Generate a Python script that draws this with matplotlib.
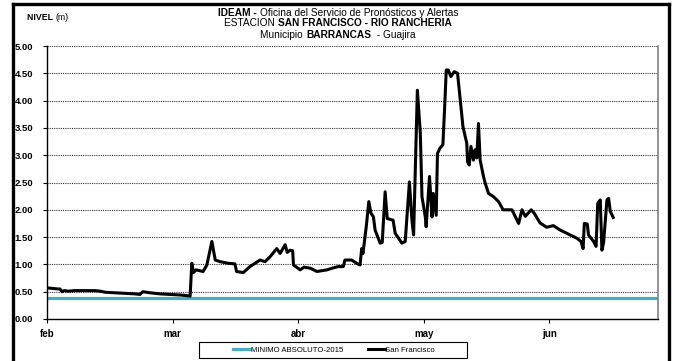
import matplotlib
matplotlib.use("Agg")
import matplotlib.pyplot as plt
from matplotlib.lines import Line2D
from matplotlib.patches import Rectangle

plt.rcParams['font.family'] = ['Liberation Sans', 'DejaVu Sans']

# Days counted from 1 February
dias = [0, 1.2, 2.6, 3.1, 3.6, 4.1, 5.0, 6.7, 9.1, 11.5, 12.7, 13.9, 16.3, 18.6,
        21.0, 22.2, 22.9, 24.6, 27.0, 29.4, 31.8, 33.2, 34.2, 34.6, 35.0, 35.6,
        37.3, 38.2, 39.4, 40.2, 41.4, 43.3, 44.9, 45.3, 46.9, 48.5, 49.7, 50.9,
        52.1, 53.3, 54.9, 55.7, 56.9, 57.4, 58.1, 58.7, 58.9, 60.5, 61.4, 62.9,
        64.5, 66.9, 68.1, 69.6, 70.8, 71.2, 72.8, 74.0, 74.8, 75.2, 75.5, 76.3,
        76.9, 77.4, 78.0, 78.4, 79.6, 80.1, 80.8, 81.3, 82.7, 83.2, 84.8, 85.6,
        86.6, 87.2, 87.6, 88.5, 89.2, 89.6, 90.4, 90.6, 91.4, 92.0, 92.3, 93.0,
        93.3, 93.9, 94.6, 95.1, 95.4, 95.9, 96.5, 97.3, 98.1, 99.4, 100.3, 100.5,
        100.9, 101.3, 101.9, 102.3, 102.7, 103.1, 103.5, 104.3, 104.7, 105.5,
        106.7, 107.9, 109.0, 111.1, 112.7, 113.5, 114.3, 115.7, 116.4, 117.8,
        119.4, 121.0, 122.6, 124.2, 126.6, 127.6, 128.1, 128.4, 129.1, 129.4,
        130.6, 131.2, 131.6, 132.2, 132.6, 133.0, 133.8, 134.2, 134.6, 135.3]

nivel = [0.57, 0.56, 0.55, 0.55, 0.50, 0.52, 0.51, 0.52, 0.52, 0.52, 0.51, 0.49,
         0.48, 0.47, 0.46, 0.45, 0.50, 0.48, 0.46, 0.45, 0.44, 0.43, 0.42, 1.02,
         0.85, 0.90, 0.87, 0.99, 1.42, 1.08, 1.05, 1.02, 1.01, 0.87, 0.85, 0.96,
         1.02, 1.08, 1.05, 1.14, 1.29, 1.20, 1.36, 1.22, 1.26, 1.25, 0.99, 0.90,
         0.95, 0.93, 0.87, 0.90, 0.93, 0.96, 0.96, 1.08, 1.08, 1.02, 0.99, 1.29,
         1.20, 1.70, 2.15, 1.94, 1.87, 1.63, 1.39, 1.40, 2.33, 1.84, 1.81, 1.57,
         1.39, 1.42, 2.51, 1.81, 1.54, 4.19, 3.41, 2.24, 1.87, 1.69, 2.61, 1.87,
         2.30, 1.90, 3.03, 3.13, 3.19, 4.01, 4.56, 4.56, 4.44, 4.53, 4.50, 3.52,
         3.22, 2.88, 2.82, 3.16, 2.91, 3.10, 2.95, 3.58, 2.91, 2.61, 2.49, 2.30,
         2.24, 2.15, 2.00, 2.00, 1.75, 2.00, 1.88, 2.00, 1.94, 1.76, 1.68, 1.71,
         1.63, 1.57, 1.48, 1.42, 1.29, 1.75, 1.74, 1.54, 1.42, 1.33, 2.12, 2.18,
         1.26, 1.40, 2.18, 2.21, 1.97, 1.86]

minimo_absoluto = 0.38

meses = ['feb', 'mar', 'abr', 'may', 'jun']
pos_meses = [0, 30, 60, 90, 120]
y_ticks = [0.0, 0.5, 1.0, 1.5, 2.0, 2.5, 3.0, 3.5, 4.0, 4.5, 5.0]

W, H = 674, 361
fig = plt.figure(figsize=(W / 100, H / 100), dpi=100)
ax = fig.add_axes([47 / W, 1 - 319 / H, (658 - 47) / W, (319 - 46) / H])

ax.set_xlim(0, 146)
ax.set_ylim(0, 5)

for yv in y_ticks[1:]:
    ax.axhline(yv, color='#333333', lw=0.8, dashes=(1, 1), zorder=1)

l_min = ax.axhline(minimo_absoluto, color='#4BACC6', lw=2.3, zorder=2,
                   label='MINIMO ABSOLUTO-2015')
l_sf, = ax.plot(dias, nivel, color='black', lw=2.2, solid_joinstyle='round',
                zorder=3, label='San Francisco')

ax.set_yticks(y_ticks)
ax.set_yticklabels([f'{v:.2f}' for v in y_ticks], fontweight='bold', fontsize=6.8)
ax.set_xticks(pos_meses)
ax.set_xticklabels(meses, fontweight='bold', fontsize=7)
ax.tick_params(axis='y', direction='out', length=3, width=0.8, pad=7)
ax.tick_params(axis='x', direction='out', length=3, width=0.8, pad=4)

ax.spines['top'].set_visible(False)
ax.spines['right'].set_color('#808080')
ax.spines['right'].set_linewidth(1.2)
ax.spines['left'].set_linewidth(1.0)
ax.spines['bottom'].set_linewidth(1.0)

# Outer frame of the chart
ytop = 1 - 3.5 / H
fk = dict(color='black', lw=2.4, transform=fig.transFigure, solid_capstyle='projecting')
fig.add_artist(Line2D([13 / W, 13 / W], [-0.05, ytop], **fk))
fig.add_artist(Line2D([13 / W, 668.5 / W], [ytop, ytop], **fk))
fig.add_artist(Line2D([668.5 / W, 668.5 / W], [-0.05, ytop], **fk))

renderer = fig.canvas.get_renderer()


def mixed_line(segments, xc, yc, size=7.3):
    texts = []
    for s, w in segments:
        t = fig.text(0, 0, s, fontsize=size, fontweight=w, va='center', ha='left')
        texts.append(t)
    widths = [t.get_window_extent(renderer).width for t in texts]
    x = xc - sum(widths) / 2
    for t, wd in zip(texts, widths):
        t.set_position((x / W, 1 - yc / H))
        x += wd


mixed_line([('IDEAM - ', 'bold'), ('Oficina del Servicio de Pronósticos y Alertas', 'normal')], 338, 12.5)
mixed_line([('ESTACION ', 'normal'), ('SAN FRANCISCO - RIO RANCHERIA', 'bold')], 338, 23.5)
mixed_line([('Municipio ', 'normal'), ('BARRANCAS', 'bold'), ('  - Guajira', 'normal')], 338, 34.5)

mixed_line([('NIVEL ', 'bold'), ('(m)', 'normal')], 48, 18, size=6.3)

# Legend box
fig.add_artist(Rectangle((199 / W, 1 - 358 / H), (467 - 199) / W, (358 - 342) / H,
                         transform=fig.transFigure, fill=False, ec='black', lw=0.8))
fig.legend(handles=[l_min, l_sf], loc='center', bbox_to_anchor=(334 / W, 1 - 350 / H),
           ncol=2, frameon=False, fontsize=5.6, handlelength=2.2, handletextpad=0.05,
           columnspacing=3.2, borderpad=0.1)

fig.savefig('out.png', dpi=100)
